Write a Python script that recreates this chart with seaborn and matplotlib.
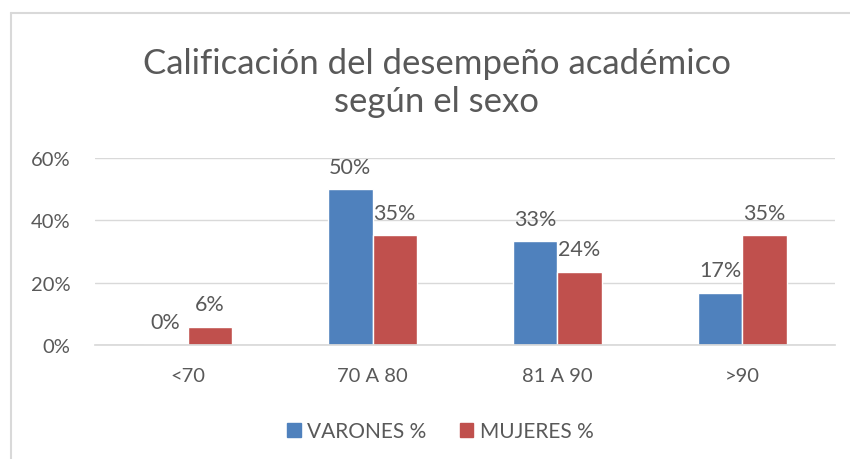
import pandas as pd
import seaborn as sns
import matplotlib.pyplot as plt
from matplotlib.patches import Rectangle
from matplotlib.lines import Line2D

# Data
categorias = ['<70', '70 A 80', '81 A 90', '>90']
varones = [0.0, 50.0, 33.3, 16.7]
mujeres = [5.9, 35.3, 23.5, 35.3]
series = ['VARONES %', 'MUJERES %']
colores = ['#4F81BD', '#C0504D']

df = pd.DataFrame({
    'rango': categorias * 2,
    'valor': [v / 100 for v in varones] + [m / 100 for m in mujeres],
    'serie': [series[0]] * 4 + [series[1]] * 4,
})

sns.set_theme(style='white')
plt.rcParams['font.family'] = ['Lato', 'DejaVu Sans']
gris = '#595959'

fig = plt.figure(figsize=(8.5, 4.6), dpi=100)
ax = fig.add_axes([0.112, 0.248, 0.87, 0.406])

sns.barplot(data=df, x='rango', y='valor', hue='serie', order=categorias,
            hue_order=series, palette=colores, width=0.48, gap=0,
            saturation=1, ax=ax)

ax.set_xlim(-0.5, 3.5)
ax.set_ylim(0, 0.6)
ax.set_yticks([0, 0.2, 0.4, 0.6])
ax.set_yticklabels(['0%', '20%', '40%', '60%'])
ax.yaxis.grid(True, color='#D9D9D9', linewidth=1)
ax.set_axisbelow(True)
ax.set_xlabel('')
ax.set_ylabel('')
for s in ['top', 'right', 'left']:
    ax.spines[s].set_visible(False)
ax.spines['bottom'].set_color('#D9D9D9')
ax.tick_params(axis='both', length=0, labelsize=14.5, colors=gris)
ax.tick_params(axis='y', pad=18)
ax.tick_params(axis='x', pad=16)

for cont in ax.containers:
    ax.bar_label(cont, labels=[f'{h * 100:.0f}%' for h in cont.datavalues],
                 padding=9, fontsize=15.5, color=gris)

ax.legend_.remove()
handles = [Rectangle((0, 0), 1, 1, color=c) for c in colores]
fig.legend(handles, series, loc='center', bbox_to_anchor=(0.518, 0.06), ncol=2,
           frameon=False, fontsize=15, labelcolor=gris, handlelength=0.65,
           handleheight=0.65, handletextpad=0.3, columnspacing=1.6)

fig.text(0.514, 0.82, 'Calificación del desempeño académico\nsegún el sexo',
         ha='center', va='center', fontsize=25, color=gris, linespacing=1.25)

# light frame (only top and left edges visible in the original)
fig.add_artist(Line2D([0.013, 0.013], [0.0, 0.97], transform=fig.transFigure,
                      color='#D9D9D9', linewidth=1.5))
fig.add_artist(Line2D([0.013, 1.0], [0.97, 0.97], transform=fig.transFigure,
                      color='#D9D9D9', linewidth=1.5))

fig.savefig('out.png', dpi=100)
